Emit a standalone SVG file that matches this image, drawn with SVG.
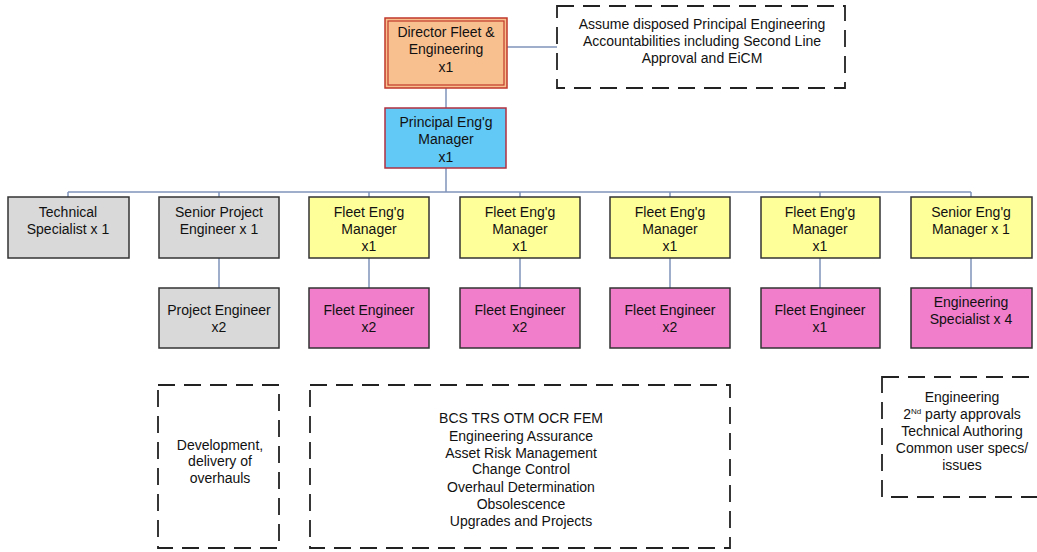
<svg xmlns="http://www.w3.org/2000/svg" width="1037" height="552" viewBox="0 0 1037 552">
  <style>
    .box { stroke: #333333; stroke-width: 1.5; }
    .grey { fill: #d9d9d9; }
    .yellow { fill: #ffff99; }
    .pink { fill: #f07ecb; }
    .note { fill: none; stroke: #222222; stroke-width: 1.8; stroke-dasharray: 17 9; }
    .link { fill: none; stroke: #7f93b8; stroke-width: 1.5; }
    text { font-family: "Liberation Sans", Arial, sans-serif; font-size: 14px; fill: #111111; text-anchor: middle; }
  </style>

  <g id="connectors">
    <line class="link" x1="446" y1="88" x2="446" y2="108"/>
    <line class="link" x1="507" y1="47" x2="557" y2="47"/>
    <line class="link" x1="446" y1="168" x2="446" y2="192"/>
    <line class="link" x1="68" y1="192" x2="971" y2="192"/>
    <line class="link" x1="68" y1="192" x2="68" y2="197"/>
    <line class="link" x1="219" y1="192" x2="219" y2="197"/>
    <line class="link" x1="369" y1="192" x2="369" y2="197"/>
    <line class="link" x1="520" y1="192" x2="520" y2="197"/>
    <line class="link" x1="670" y1="192" x2="670" y2="197"/>
    <line class="link" x1="820" y1="192" x2="820" y2="197"/>
    <line class="link" x1="971" y1="192" x2="971" y2="197"/>
    <line class="link" x1="219" y1="258" x2="219" y2="288"/>
    <line class="link" x1="369" y1="258" x2="369" y2="288"/>
    <line class="link" x1="520" y1="258" x2="520" y2="288"/>
    <line class="link" x1="670" y1="258" x2="670" y2="288"/>
    <line class="link" x1="820" y1="258" x2="820" y2="288"/>
    <line class="link" x1="971" y1="258" x2="971" y2="288"/>
  </g>

  <g id="director">
    <rect x="385" y="18" width="122" height="70" fill="#f9c08f" stroke="#c0392b" stroke-width="1.5"/>
    <rect x="388" y="21" width="116" height="64" fill="none" stroke="#c0392b" stroke-width="1.2"/>
    <text x="446" y="37">Director Fleet &amp;</text>
    <text x="446" y="54">Engineering</text>
    <text x="446" y="72">x1</text>
  </g>

  <g id="note-accountabilities">
    <rect class="note" x="557" y="6" width="288" height="82"/>
    <text x="702" y="29">Assume disposed Principal Engineering</text>
    <text x="702" y="46">Accountabilities including Second Line</text>
    <text x="702" y="63">Approval and EiCM</text>
  </g>

  <g id="principal">
    <rect x="385" y="108" width="121" height="60" fill="#62c8f5" stroke="#b03040" stroke-width="1.5"/>
    <text x="446" y="127">Principal Eng'g</text>
    <text x="446" y="144">Manager</text>
    <text x="446" y="162">x1</text>
  </g>

  <g id="technical-specialist">
    <rect class="box grey" x="8" y="197" width="121" height="61"/>
    <text x="68" y="217">Technical</text>
    <text x="68" y="234">Specialist x 1</text>
  </g>

  <g id="senior-project-engineer">
    <rect class="box grey" x="159" y="197" width="120" height="61"/>
    <text x="219" y="217">Senior Project</text>
    <text x="219" y="234">Engineer x 1</text>
  </g>

  <g id="fleet-manager-1">
    <rect class="box yellow" x="309" y="197" width="120" height="61"/>
    <text x="369" y="217">Fleet Eng'g</text>
    <text x="369" y="234">Manager</text>
    <text x="369" y="251">x1</text>
  </g>

  <g id="fleet-manager-2">
    <rect class="box yellow" x="460" y="197" width="120" height="61"/>
    <text x="520" y="217">Fleet Eng'g</text>
    <text x="520" y="234">Manager</text>
    <text x="520" y="251">x1</text>
  </g>

  <g id="fleet-manager-3">
    <rect class="box yellow" x="610" y="197" width="120" height="61"/>
    <text x="670" y="217">Fleet Eng'g</text>
    <text x="670" y="234">Manager</text>
    <text x="670" y="251">x1</text>
  </g>

  <g id="fleet-manager-4">
    <rect class="box yellow" x="761" y="197" width="119" height="61"/>
    <text x="820" y="217">Fleet Eng'g</text>
    <text x="820" y="234">Manager</text>
    <text x="820" y="251">x1</text>
  </g>

  <g id="senior-eng-manager">
    <rect class="box yellow" x="911" y="197" width="121" height="61"/>
    <text x="971" y="217">Senior Eng'g</text>
    <text x="971" y="234">Manager x 1</text>
  </g>

  <g id="project-engineer">
    <rect class="box grey" x="159" y="288" width="120" height="60"/>
    <text x="219" y="315">Project Engineer</text>
    <text x="219" y="332">x2</text>
  </g>

  <g id="fleet-engineer-1">
    <rect class="box pink" x="309" y="288" width="120" height="60"/>
    <text x="369" y="315">Fleet Engineer</text>
    <text x="369" y="332">x2</text>
  </g>

  <g id="fleet-engineer-2">
    <rect class="box pink" x="460" y="288" width="120" height="60"/>
    <text x="520" y="315">Fleet Engineer</text>
    <text x="520" y="332">x2</text>
  </g>

  <g id="fleet-engineer-3">
    <rect class="box pink" x="610" y="288" width="120" height="60"/>
    <text x="670" y="315">Fleet Engineer</text>
    <text x="670" y="332">x2</text>
  </g>

  <g id="fleet-engineer-4">
    <rect class="box pink" x="761" y="288" width="119" height="60"/>
    <text x="820" y="315">Fleet Engineer</text>
    <text x="820" y="332">x1</text>
  </g>

  <g id="engineering-specialist">
    <rect class="box pink" x="911" y="288" width="121" height="60"/>
    <text x="971" y="307">Engineering</text>
    <text x="971" y="324">Specialist x 4</text>
  </g>

  <g id="note-overhauls">
    <rect class="note" x="158" y="385" width="121" height="163"/>
    <text x="220" y="450">Development,</text>
    <text x="220" y="466">delivery of</text>
    <text x="220" y="483">overhauls</text>
  </g>

  <g id="note-fleet-duties">
    <rect class="note" x="310" y="385" width="420" height="163"/>
    <text x="521" y="423">BCS TRS OTM OCR FEM</text>
    <text x="521" y="441">Engineering Assurance</text>
    <text x="521" y="458">Asset Risk Management</text>
    <text x="521" y="474">Change Control</text>
    <text x="521" y="492">Overhaul Determination</text>
    <text x="521" y="509">Obsolescence</text>
    <text x="521" y="526">Upgrades and Projects</text>
  </g>

  <g id="note-specialist-duties">
    <rect class="note" x="882" y="377" width="200" height="120"/>
    <text x="962" y="402">Engineering</text>
    <text x="962" y="419">2<tspan dy="-5" font-size="8">Nd</tspan><tspan dy="5"> party approvals</tspan></text>
    <text x="962" y="436">Technical Authoring</text>
    <text x="962" y="453">Common user specs/</text>
    <text x="962" y="470">issues</text>
  </g>
</svg>
